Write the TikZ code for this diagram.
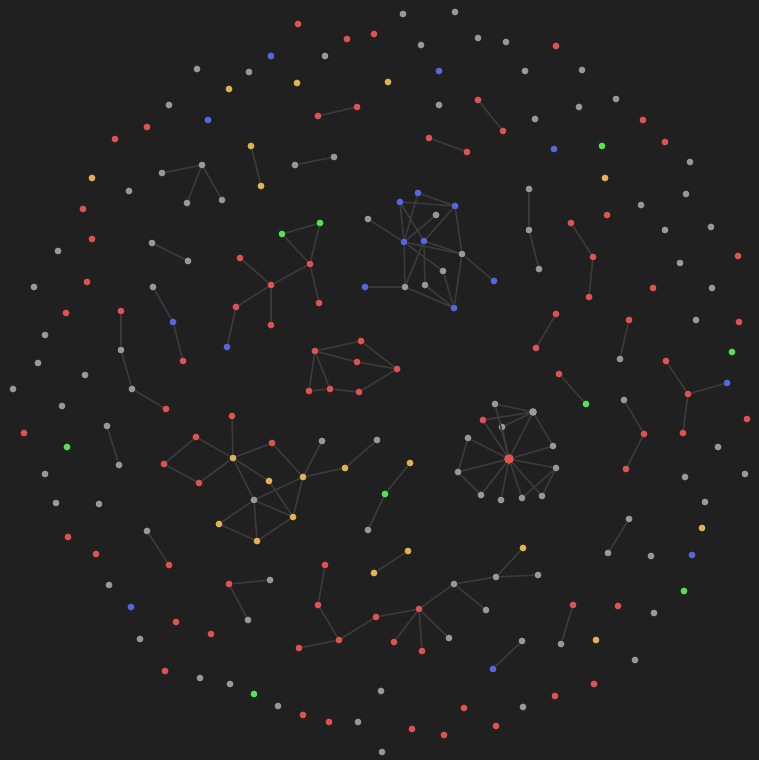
\documentclass[tikz,border=0pt]{standalone}
\definecolor{bgdark}{RGB}{32,32,32}
\definecolor{dotred}{RGB}{224,82,82}
\definecolor{dotgrey}{RGB}{152,152,152}
\definecolor{dotblue}{RGB}{84,102,226}
\definecolor{dotyellow}{RGB}{226,178,82}
\definecolor{dotgreen}{RGB}{82,226,82}
\definecolor{linkgrey}{RGB}{58,58,58}

\begin{document}
\begin{tikzpicture}[x=1pt, y=-1pt,
  dot/.style={circle, inner sep=0pt, minimum size=6.8pt},
  reddot/.style={dot, fill=dotred},
  greydot/.style={dot, fill=dotgrey},
  bluedot/.style={dot, fill=dotblue},
  yellowdot/.style={dot, fill=dotyellow},
  greendot/.style={dot, fill=dotgreen},
  link/.style={draw=linkgrey, line width=1.6pt}]

\fill[bgdark] (0,0) rectangle (759,760);
\useasboundingbox (0,0) rectangle (759,760);

% loose dots around the rim
\node[reddot] (s1) at (298,24) {};
\node[greydot] (s2) at (403,14) {};
\node[greydot] (s3) at (455,12) {};
\node[reddot] (s4) at (347,39) {};
\node[reddot] (s5) at (374,34) {};
\node[greydot] (s6) at (421,45) {};
\node[greydot] (s7) at (478,38) {};
\node[greydot] (s8) at (506,42) {};
\node[reddot] (s9) at (556,46) {};
\node[bluedot] (s10) at (271,56) {};
\node[greydot] (s11) at (325,56) {};
\node[greydot] (s12) at (197,69) {};
\node[greydot] (s13) at (249,72) {};
\node[bluedot] (s14) at (439,71) {};
\node[greydot] (s15) at (525,71) {};
\node[greydot] (s16) at (582,70) {};
\node[yellowdot] (s17) at (229,89) {};
\node[yellowdot] (s18) at (297,83) {};
\node[yellowdot] (s19) at (388,82) {};
\node[greydot] (s20) at (169,105) {};
\node[bluedot] (s21) at (208,120) {};
\node[greydot] (s22) at (439,105) {};
\node[greydot] (s23) at (535,119) {};
\node[greydot] (s24) at (579,107) {};
\node[greydot] (s25) at (616,99) {};
\node[reddot] (s26) at (643,120) {};
\node[reddot] (s27) at (115,139) {};
\node[reddot] (s28) at (147,127) {};
\node[bluedot] (s29) at (554,149) {};
\node[greendot] (s30) at (602,146) {};
\node[reddot] (s31) at (665,142) {};
\node[yellowdot] (s32) at (92,178) {};
\node[greydot] (s33) at (129,191) {};
\node[yellowdot] (s34) at (605,178) {};
\node[greydot] (s35) at (690,162) {};
\node[greydot] (s36) at (686,194) {};
\node[reddot] (s37) at (83,209) {};
\node[reddot] (s38) at (607,215) {};
\node[greydot] (s39) at (641,205) {};
\node[greydot] (s40) at (665,230) {};
\node[greydot] (s41) at (711,227) {};
\node[reddot] (s42) at (92,239) {};
\node[greydot] (s43) at (58,251) {};
\node[reddot] (s44) at (738,256) {};
\node[greydot] (s45) at (680,263) {};
\node[reddot] (s46) at (87,282) {};
\node[greydot] (s47) at (34,287) {};
\node[greydot] (s48) at (712,288) {};
\node[reddot] (s49) at (653,288) {};
\node[reddot] (s50) at (66,313) {};
\node[reddot] (s51) at (739,322) {};
\node[greydot] (s52) at (696,320) {};
\node[greydot] (s53) at (45,335) {};
\node[greydot] (s54) at (38,363) {};
\node[greydot] (s55) at (85,375) {};
\node[greendot] (s56) at (732,352) {};
\node[greydot] (s57) at (13,389) {};
\node[greydot] (s58) at (62,406) {};
\node[reddot] (s59) at (747,419) {};
\node[reddot] (s60) at (24,433) {};
\node[greendot] (s61) at (67,447) {};
\node[greydot] (s62) at (718,447) {};
\node[greydot] (s63) at (45,474) {};
\node[greydot] (s64) at (685,477) {};
\node[greydot] (s65) at (745,474) {};
\node[greydot] (s66) at (56,503) {};
\node[greydot] (s67) at (99,504) {};
\node[greydot] (s68) at (705,502) {};
\node[yellowdot] (s69) at (702,528) {};
\node[reddot] (s70) at (68,537) {};
\node[reddot] (s71) at (96,554) {};
\node[greydot] (s72) at (651,556) {};
\node[bluedot] (s73) at (692,555) {};
\node[greydot] (s74) at (109,585) {};
\node[greendot] (s75) at (684,591) {};
\node[bluedot] (s76) at (131,607) {};
\node[reddot] (s77) at (176,622) {};
\node[reddot] (s78) at (211,634) {};
\node[greydot] (s79) at (140,639) {};
\node[reddot] (s80) at (618,606) {};
\node[greydot] (s81) at (654,613) {};
\node[yellowdot] (s82) at (596,640) {};
\node[greydot] (s83) at (635,660) {};
\node[reddot] (s84) at (165,671) {};
\node[greydot] (s85) at (200,678) {};
\node[greydot] (s86) at (230,684) {};
\node[greendot] (s87) at (254,694) {};
\node[greydot] (s88) at (278,706) {};
\node[reddot] (s89) at (303,715) {};
\node[reddot] (s90) at (329,722) {};
\node[greydot] (s91) at (358,722) {};
\node[greydot] (s92) at (381,691) {};
\node[greydot] (s93) at (382,752) {};
\node[reddot] (s94) at (412,729) {};
\node[reddot] (s95) at (444,735) {};
\node[reddot] (s96) at (464,708) {};
\node[reddot] (s97) at (496,726) {};
\node[greydot] (s98) at (523,707) {};
\node[reddot] (s99) at (555,696) {};
\node[reddot] (s100) at (594,684) {};

% small pairs and chains
\node[reddot] (p1a) at (318,116) {};
\node[reddot] (p1b) at (357,107) {};
\node[reddot] (p2a) at (478,100) {};
\node[reddot] (p2b) at (503,131) {};
\node[reddot] (p3a) at (429,138) {};
\node[reddot] (p3b) at (467,152) {};
\node[yellowdot] (p4a) at (251,146) {};
\node[yellowdot] (p4b) at (261,186) {};
\node[greydot] (p5a) at (295,165) {};
\node[greydot] (p5b) at (334,157) {};
\node[greydot] (p6a) at (152,243) {};
\node[greydot] (p6b) at (188,261) {};
\node[reddot] (p7a) at (556,314) {};
\node[reddot] (p7b) at (536,348) {};
\node[reddot] (p8a) at (629,320) {};
\node[greydot] (p8b) at (620,359) {};
\node[reddot] (p9a) at (559,374) {};
\node[greendot] (p9b) at (586,404) {};
\node[greydot] (p10a) at (107,426) {};
\node[greydot] (p10b) at (119,465) {};
\node[greydot] (p11a) at (629,519) {};
\node[greydot] (p11b) at (608,553) {};
\node[greydot] (p12a) at (147,531) {};
\node[reddot] (p12b) at (169,565) {};
\node[reddot] (p13a) at (573,605) {};
\node[greydot] (p13b) at (561,644) {};
\node[greydot] (p14a) at (522,641) {};
\node[bluedot] (p14b) at (493,669) {};
\node[yellowdot] (p15a) at (408,551) {};
\node[yellowdot] (p15b) at (374,573) {};

\node[greydot] (t0) at (202,165) {};
\node[greydot] (t1) at (162,173) {};
\node[greydot] (t2) at (187,203) {};
\node[greydot] (t3) at (222,200) {};

\node[greydot] (c1) at (529,189) {};
\node[greydot] (c2) at (529,230) {};
\node[greydot] (c3) at (539,269) {};
\node[reddot] (c4) at (571,223) {};
\node[reddot] (c5) at (593,257) {};
\node[reddot] (c6) at (589,297) {};
\node[greydot] (c7) at (153,287) {};
\node[bluedot] (c8) at (173,322) {};
\node[reddot] (c9) at (183,361) {};
\node[reddot] (c10) at (121,311) {};
\node[greydot] (c11) at (121,350) {};
\node[greydot] (c12) at (132,389) {};
\node[reddot] (c13) at (166,409) {};
\node[greydot] (c14) at (624,400) {};
\node[reddot] (c15) at (644,434) {};
\node[reddot] (c16) at (626,469) {};

\node[reddot] (y0) at (688,394) {};
\node[reddot] (y1) at (666,361) {};
\node[bluedot] (y2) at (727,383) {};
\node[reddot] (y3) at (683,433) {};

\node[reddot] (v0) at (229,584) {};
\node[greydot] (v1) at (270,580) {};
\node[greydot] (v2) at (248,620) {};

\node[yellowdot] (k1) at (410,463) {};
\node[greendot] (k2) at (385,494) {};
\node[greydot] (k3) at (368,530) {};

\draw[link] (p1a) -- (p1b);
\draw[link] (p2a) -- (p2b);
\draw[link] (p3a) -- (p3b);
\draw[link] (p4a) -- (p4b);
\draw[link] (p5a) -- (p5b);
\draw[link] (p6a) -- (p6b);
\draw[link] (p7a) -- (p7b);
\draw[link] (p8a) -- (p8b);
\draw[link] (p9a) -- (p9b);
\draw[link] (p10a) -- (p10b);
\draw[link] (p11a) -- (p11b);
\draw[link] (p12a) -- (p12b);
\draw[link] (p13a) -- (p13b);
\draw[link] (p14a) -- (p14b);
\draw[link] (p15a) -- (p15b);
\draw[link] (t0) -- (t1);
\draw[link] (t0) -- (t2);
\draw[link] (t0) -- (t3);
\draw[link] (c1) -- (c2) -- (c3);
\draw[link] (c4) -- (c5) -- (c6);
\draw[link] (c7) -- (c8) -- (c9);
\draw[link] (c10) -- (c11) -- (c12) -- (c13);
\draw[link] (c14) -- (c15) -- (c16);
\draw[link] (y1) -- (y0);
\draw[link] (y0) -- (y2);
\draw[link] (y0) -- (y3);
\draw[link] (v0) -- (v1);
\draw[link] (v0) -- (v2);
\draw[link] (k1) -- (k2) -- (k3);

% green-headed group
\node[greendot] (a1) at (282,234) {};
\node[greendot] (a2) at (320,223) {};
\node[reddot] (a3) at (310,264) {};
\node[reddot] (a4) at (271,285) {};
\node[reddot] (a5) at (240,258) {};
\node[reddot] (a6) at (236,307) {};
\node[bluedot] (a7) at (227,347) {};
\node[reddot] (a8) at (271,325) {};
\node[reddot] (a9) at (319,303) {};

\draw[link] (a1) -- (a2);
\draw[link] (a1) -- (a3);
\draw[link] (a2) -- (a3);
\draw[link] (a3) -- (a4);
\draw[link] (a3) -- (a9);
\draw[link] (a4) -- (a5);
\draw[link] (a4) -- (a6);
\draw[link] (a4) -- (a8);
\draw[link] (a6) -- (a7);

% blue mesh
\node[bluedot] (b1) at (418,193) {};
\node[bluedot] (b2) at (400,202) {};
\node[bluedot] (b3) at (455,206) {};
\node[greydot] (b4) at (436,215) {};
\node[greydot] (b5) at (368,219) {};
\node[bluedot] (b6) at (404,242) {};
\node[bluedot] (b7) at (424,241) {};
\node[greydot] (b8) at (462,254) {};
\node[greydot] (b9) at (443,271) {};
\node[greydot] (b10) at (425,285) {};
\node[greydot] (b11) at (405,287) {};
\node[bluedot] (b12) at (365,287) {};
\node[bluedot] (b13) at (494,281) {};
\node[bluedot] (b14) at (454,308) {};

\draw[link] (b1) -- (b3);
\draw[link] (b2) -- (b3);
\draw[link] (b1) -- (b6);
\draw[link] (b2) -- (b6);
\draw[link] (b2) -- (b7);
\draw[link] (b5) -- (b6);
\draw[link] (b4) -- (b6);
\draw[link] (b3) -- (b7);
\draw[link] (b3) -- (b8);
\draw[link] (b6) -- (b8);
\draw[link] (b7) -- (b8);
\draw[link] (b6) -- (b9);
\draw[link] (b6) -- (b11);
\draw[link] (b7) -- (b10);
\draw[link] (b7) -- (b11);
\draw[link] (b8) -- (b13);
\draw[link] (b8) -- (b14);
\draw[link] (b9) -- (b14);
\draw[link] (b10) -- (b14);
\draw[link] (b11) -- (b14);
\draw[link] (b12) -- (b11);

% red ring
\node[reddot] (r1) at (315,351) {};
\node[reddot] (r2) at (361,341) {};
\node[reddot] (r3) at (357,362) {};
\node[reddot] (r4) at (397,369) {};
\node[reddot] (r5) at (309,391) {};
\node[reddot] (r6) at (330,389) {};
\node[reddot] (r7) at (359,392) {};

\draw[link] (r1) -- (r2);
\draw[link] (r1) -- (r3);
\draw[link] (r2) -- (r4);
\draw[link] (r3) -- (r4);
\draw[link] (r1) -- (r5);
\draw[link] (r1) -- (r6);
\draw[link] (r5) -- (r6);
\draw[link] (r6) -- (r7);
\draw[link] (r7) -- (r4);

% yellow web
\node[reddot] (d1) at (232,416) {};
\node[yellowdot] (d2) at (233,458) {};
\node[reddot] (d3) at (272,443) {};
\node[greydot] (d4) at (322,441) {};
\node[yellowdot] (d5) at (269,481) {};
\node[yellowdot] (d6) at (303,477) {};
\node[yellowdot] (d7) at (345,468) {};
\node[greydot] (d8) at (254,500) {};
\node[yellowdot] (d9) at (219,524) {};
\node[yellowdot] (d10) at (293,517) {};
\node[yellowdot] (d11) at (257,541) {};
\node[greydot] (d12) at (377,440) {};
\node[reddot] (d13) at (196,437) {};
\node[reddot] (d14) at (164,464) {};
\node[reddot] (d15) at (199,483) {};

\draw[link] (d1) -- (d2);
\draw[link] (d2) -- (d3);
\draw[link] (d2) -- (d13);
\draw[link] (d2) -- (d15);
\draw[link] (d13) -- (d14);
\draw[link] (d14) -- (d15);
\draw[link] (d2) -- (d5);
\draw[link] (d2) -- (d8);
\draw[link] (d3) -- (d6);
\draw[link] (d6) -- (d4);
\draw[link] (d6) -- (d7);
\draw[link] (d7) -- (d12);
\draw[link] (d6) -- (d8);
\draw[link] (d6) -- (d10);
\draw[link] (d5) -- (d10);
\draw[link] (d8) -- (d10);
\draw[link] (d8) -- (d9);
\draw[link] (d8) -- (d11);
\draw[link] (d9) -- (d11);
\draw[link] (d10) -- (d11);

% hub with its fan
\node[reddot, minimum size=9.8pt] (hub) at (509,459) {};
\node[greydot] (e1) at (495,404) {};
\node[greydot, minimum size=7.8pt] (e2) at (533,412) {};
\node[reddot] (e3) at (483,420) {};
\node[greydot] (e4) at (502,427) {};
\node[greydot] (e5) at (468,438) {};
\node[greydot] (e6) at (553,446) {};
\node[greydot] (e7) at (556,468) {};
\node[greydot] (e8) at (458,472) {};
\node[greydot] (e9) at (481,495) {};
\node[greydot] (e10) at (501,500) {};
\node[greydot] (e11) at (522,498) {};
\node[greydot] (e12) at (542,496) {};

\draw[link] (e1) -- (e2);
\draw[link] (e3) -- (e2);
\draw[link] (e4) -- (e2);
\draw[link] (e2) -- (e6);
\draw[link] (e5) -- (e8);
\draw[link] (e8) -- (e9);
\draw[link] (e7) -- (e11);
\draw[link] (e7) -- (e12);
\draw[link] (hub) -- (e1);
\draw[link] (hub) -- (e2);
\draw[link] (hub) -- (e3);
\draw[link] (hub) -- (e4);
\draw[link] (hub) -- (e5);
\draw[link] (hub) -- (e6);
\draw[link] (hub) -- (e7);
\draw[link] (hub) -- (e8);
\draw[link] (hub) -- (e9);
\draw[link] (hub) -- (e10);
\draw[link] (hub) -- (e11);
\draw[link] (hub) -- (e12);

% bottom tree
\node[reddot] (f1) at (325,565) {};
\node[reddot] (f2) at (318,605) {};
\node[reddot] (f3) at (339,640) {};
\node[reddot] (f4) at (299,648) {};
\node[reddot] (f5) at (376,617) {};
\node[reddot] (f6) at (419,609) {};
\node[greydot] (f7) at (454,584) {};
\node[greydot] (f8) at (496,577) {};
\node[greydot] (f9) at (486,610) {};
\node[reddot] (f10) at (394,642) {};
\node[reddot] (f11) at (422,651) {};
\node[greydot] (f12) at (449,638) {};
\node[yellowdot] (f13) at (523,548) {};
\node[greydot] (f14) at (538,575) {};

\draw[link] (f1) -- (f2) -- (f3);
\draw[link] (f3) -- (f4);
\draw[link] (f3) -- (f5) -- (f6);
\draw[link] (f6) -- (f7);
\draw[link] (f7) -- (f8);
\draw[link] (f7) -- (f9);
\draw[link] (f6) -- (f10);
\draw[link] (f6) -- (f11);
\draw[link] (f6) -- (f12);
\draw[link] (f8) -- (f13);
\draw[link] (f8) -- (f14);
\end{tikzpicture}
\end{document}
